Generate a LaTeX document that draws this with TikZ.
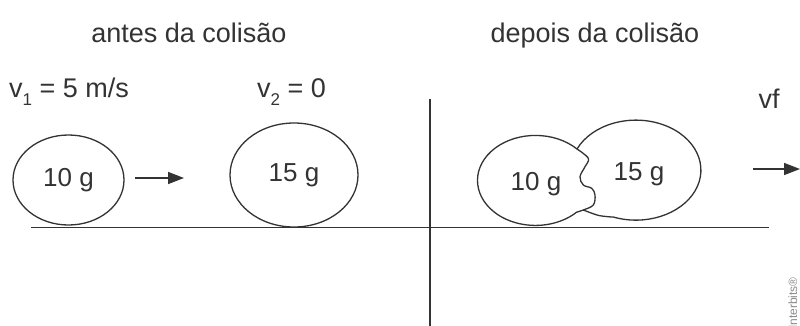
\documentclass[tikz,border=0pt]{standalone}
\usepackage{fontspec}
\setmainfont{Liberation Sans}
\usetikzlibrary{arrows.meta,shapes.geometric}
\definecolor{ink}{HTML}{333333}
\newcommand\subidx[1]{\raisebox{-0.3em}{\fontsize{17}{20}\selectfont #1}}
\begin{document}
\begin{tikzpicture}[x=1pt,y=-1pt,
  txt/.style={font=\fontsize{26}{31}\selectfont, text=ink, inner sep=0pt},
  big/.style={font=\fontsize{27}{32}\selectfont, text=ink, inner sep=0pt},
  ball/.style={ellipse, draw=ink, line width=1.3pt, inner sep=0pt, font=\fontsize{26}{31}\selectfont, text=ink},
  ln/.style={draw=ink, line width=1.6pt},
  arr/.style={draw=ink, line width=1.5pt, -{Triangle[length=16pt,width=12pt]}},
  blob/.style={draw=ink, line width=1.3pt, line join=round}
]
\useasboundingbox (0,0) rectangle (800,325);
\fill[white] (0,0) rectangle (800,325);

% titles
\node[big, anchor=base] (t1) at (189,42) {antes da colisão};
\node[big, anchor=base] (t2) at (595,42) {depois da colisão};

% velocity labels
\node[big, anchor=base west] (v1) at (9,97) {v\subidx{1} = 5 m/s};
\node[big, anchor=base west] (v2) at (257,97) {v\subidx{2} = 0};
\node[big, anchor=base] (vf) at (769,108) {vf};

% balls before
\node[ball, minimum width=111pt, minimum height=90pt] (b1) at (68.5,180) {10 g};
\node[ball, minimum width=128pt, minimum height=104pt] (b2) at (294,175) {15 g};

% arrows
\coordinate (a1s) at (135,178);
\coordinate (a1e) at (184,178);
\draw[arr] (a1s) -- (a1e);
\coordinate (a2s) at (753,169);
\coordinate (a2e) at (800,169);
\draw[arr] (a2s) -- (a2e);

% ground and divider
\coordinate (g1) at (31,227.5);
\coordinate (g2) at (769,227.5);
\draw[ln] (g1) -- (g2);
\coordinate (d1) at (430,99);
\coordinate (d2) at (430,326);
\draw[ln] (d1) -- (d2);

% merged blobs after collision
\coordinate (jt) at (577,149);
\coordinate (jb) at (583.3,210);
\draw[blob] (jt) arc[start angle=-44.3, end angle=-315, x radius=58, y radius=45]
  -- plot[smooth, tension=0.6] coordinates {(576.5,212.2) (583.3,210) (593.3,205) (595,195) (591.7,188.3) (583.3,185) (580,176.7) (585,166.7) (588.3,158.3) (577,149)};
\draw[blob] (jt) arc[start angle=-155, end angle=110, x radius=65, y radius=50]
  -- plot[smooth, tension=0.6] coordinates {(613.7,217.1) (606,216.5) (597,215) (583.3,210)};
\node[txt, anchor=base] (m1) at (536,190) {10 g};
\node[txt, anchor=base] (m2) at (639,180) {15 g};

% watermark (cut at the lower edge, as in the reference)
\node[font=\fontsize{12}{14}\selectfont, text=black!45, rotate=90, anchor=base west, inner sep=0pt] (wm) at (797,329) {Interbits®};
\end{tikzpicture}
\end{document}
